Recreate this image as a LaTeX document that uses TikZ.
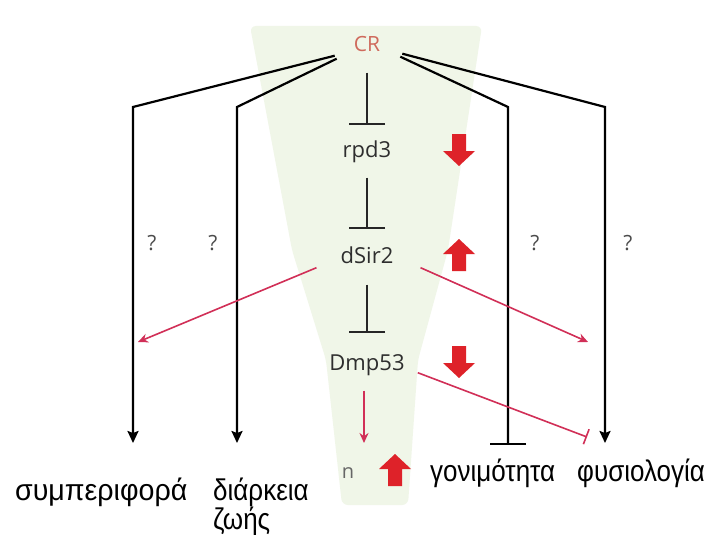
\documentclass[tikz,border=0pt]{standalone}
\usepackage{fontspec}
\setmainfont{Liberation Sans}
\newfontfamily\genefont{Open Sans}
\usetikzlibrary{arrows.meta,positioning}
\definecolor{funnelgreen}{HTML}{F0F6E8}
\definecolor{crtext}{HTML}{CF6A5C}
\definecolor{genegray}{HTML}{2E2E2E}
\definecolor{linkred}{HTML}{D12F57}
\definecolor{blockred}{HTML}{DE2229}

\begin{document}
\begin{tikzpicture}[
  x=1pt,y=-1pt,
  >=Stealth,
  gene/.style={font=\genefont\fontsize{22}{24}\selectfont,text=genegray,inner sep=0pt,text height=15pt,text depth=4pt},
  query/.style={font=\genefont\fontsize{21}{23}\selectfont,text=black!70},
  outcome/.style={font=\fontsize{26}{28}\selectfont,anchor=base west,inner sep=0pt},
  route/.style={line width=2.2pt,black},
  inhibit/.style={line width=2.2pt,black!85,-{Bar[width=36pt]}},
  effect/.style={line width=1.6pt,linkred},
  upblock/.pic={\fill[blockred] (-7,16) -- (-7,-1) -- (-16,-1) -- (0,-16) -- (16,-1) -- (7,-1) -- (7,16) -- cycle;}
]
  \fill[white] (0,0) rectangle (710,535);
  \useasboundingbox (0,0) rectangle (710,535);
  % green funnel behind the chain
  \fill[funnelgreen,rounded corners=6pt] (250,26) -- (482,26) -- (448,250) -- (418,360) -- (408,505) -- (342,505) -- (326,360) -- (292,250) -- cycle;

  \node[gene,text=crtext,font=\genefont\fontsize{21}{23}\selectfont] (cr) at (367,46) {CR};
  \node[gene] (rpd3) at (367,152) {rpd3};
  \node[gene] (sir2) at (367,258) {dSir2};
  \node[gene] (p53) at (367,365) {Dmp53};
  \node[gene,text=black!60,font=\genefont\fontsize{20}{22}\selectfont] (nn) at (348,473) {n};

  \node[outcome] (beh) at (15,500) {\scalebox{1.1}[1.15]{συμπεριφορά}};
  \node[outcome] (life) at (213,500) {\scalebox{1}[1.15]{διάρκεια}};
  \node[outcome] (life2) at (213,529) {\scalebox{1}[1.15]{ζωής}};
  \node[outcome] (fert) at (430,481) {\scalebox{1}[1.15]{γονιμότητα}};
  \node[outcome] (phys) at (577,481) {\scalebox{1}[1.15]{φυσιολογία}};

  \node[query] (q1) at (152,243) {?};
  \node[query] (q2) at (213,243) {?};
  \node[query] (q3) at (535,243) {?};
  \node[query] (q4) at (628,243) {?};

  \coordinate (beh-top) at (133,107);
  \coordinate (beh-in) at (133,443);
  \coordinate (life-top) at (237,107);
  \coordinate (life-in) at (237,443);
  \coordinate (fert-top) at (508,107);
  \coordinate (fert-in) at (508,445);
  \coordinate (phys-top) at (605,107);
  \coordinate (phys-in) at (605,443);
  \coordinate (beh-red) at (138,342);
  \coordinate (phys-red) at (588,342);
  \coordinate (phys-bar) at (587,437);
  \coordinate (nn-in) at (364,443);

  % CR straight to the outcomes
  \draw[route,-{Stealth[length=12pt,width=11pt,inset=2pt]}] ([shift={(-19,0)}]cr.south west) -- (beh-top) -- (beh-in);
  \draw[route,-{Stealth[length=12pt,width=11pt,inset=2pt]}] ([shift={(-17,3)}]cr.south west) -- (life-top) -- (life-in);
  \draw[route,-{Bar[width=36pt]}] ([shift={(20,1)}]cr.south east) -- (fert-top) -- (fert-in);
  \draw[route,-{Stealth[length=12pt,width=11pt,inset=2pt]}] ([shift={(22,-2)}]cr.south east) -- (phys-top) -- (phys-in);

  % the chain
  \draw[inhibit,shorten <=17pt,shorten >=17pt] (cr) -- (rpd3);
  \draw[inhibit,shorten <=16pt,shorten >=19pt] (rpd3) -- (sir2);
  \draw[inhibit,shorten <=17pt,shorten >=22pt] (sir2) -- (p53);

  \draw[effect,-{Stealth[length=10pt,width=9pt]}] ([shift={(-24,0)}]sir2.south west) -- (beh-red);
  \draw[effect,-{Stealth[length=10pt,width=9pt]}] ([shift={(27,0)}]sir2.south east) -- (phys-red);
  \draw[effect,-{Bar[width=16pt]}] ([shift={(13,-2)}]p53.south east) -- (phys-bar);
  \draw[effect,-{Stealth[length=10pt,width=9pt]}] ([shift={(-3,16)}]p53.south) -- (nn-in);

  \pic[rotate=180] at (459,150) {upblock};
  \pic at (459,255) {upblock};
  \pic[rotate=180] at (459,362) {upblock};
  \pic at (395,470) {upblock};
\end{tikzpicture}
\end{document}
